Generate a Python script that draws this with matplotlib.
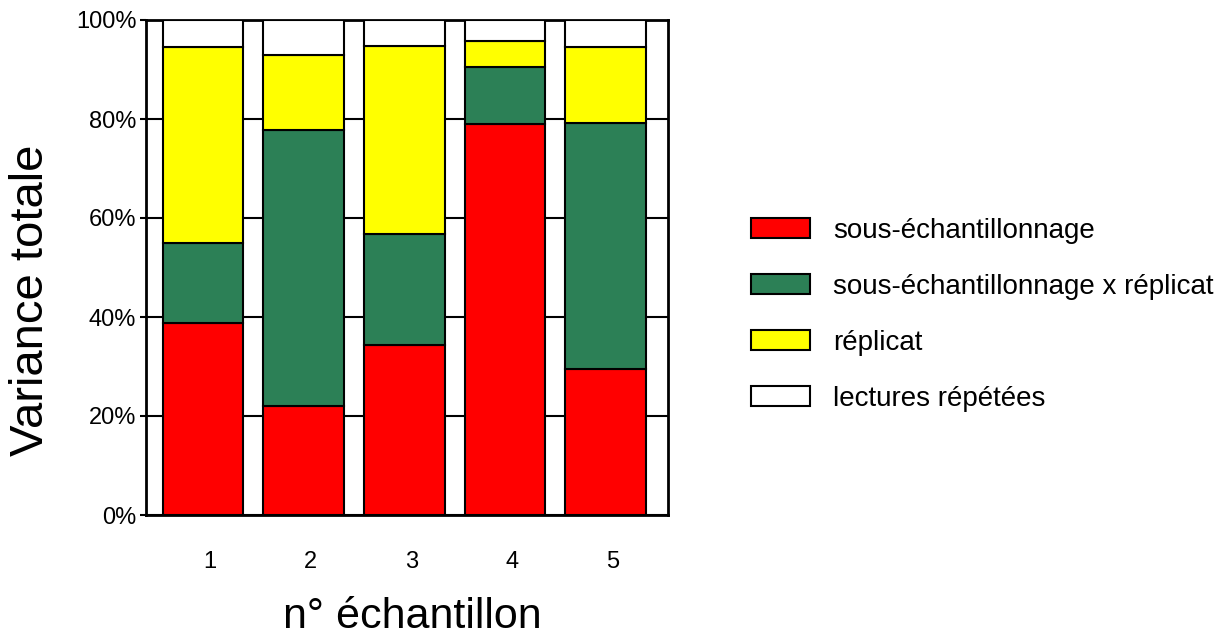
import matplotlib.pyplot as plt
import matplotlib.transforms as mtransforms
import numpy as np

plt.rcParams['font.family'] = ['Liberation Sans', 'DejaVu Sans']

# echantillons et parts de variance (%)
echantillons = ['1', '2', '3', '4', '5']
sous_ech = [38.8, 22.0, 34.3, 79.0, 29.5]
sous_ech_x_rep = [16.1, 55.8, 22.5, 11.5, 49.7]
replicat = [39.6, 15.1, 37.9, 5.3, 15.3]
lectures = [5.5, 7.1, 5.3, 4.2, 5.5]

noms = ['sous-échantillonnage', 'sous-échantillonnage x réplicat',
        'réplicat', 'lectures répétées']
couleurs = ['#ff0000', '#2c8056', '#ffff00', '#ffffff']

fig = plt.figure(figsize=(12.26, 6.39), dpi=100)
ax = fig.add_axes([146/1226, 1 - 515/639, (668-146)/1226, (515-20)/639])

x = np.arange(1, len(echantillons) + 1)
bas = np.zeros(len(x))
for vals, nom, c in zip([sous_ech, sous_ech_x_rep, replicat, lectures], noms, couleurs):
    ax.bar(x, vals, width=0.8, bottom=bas, color=c, edgecolor='black',
           linewidth=1.5, label=nom, zorder=3)
    bas += np.array(vals)

ax.set_xlim(0.433, 5.62)
ax.set_ylim(0, 100)
ax.set_yticks([0, 20, 40, 60, 80, 100])
ax.set_yticklabels(['0%', '20%', '40%', '60%', '80%', '100%'], fontsize=17)
ax.set_xticks(x)
ax.set_xticklabels(echantillons, fontsize=17)
ax.tick_params(axis='x', length=0, pad=26)
ax.tick_params(axis='y', length=4, width=1.5, pad=3)
# les numeros sont un peu decales a droite dans l'original
decal = mtransforms.ScaledTranslation(7/100, 0, fig.dpi_scale_trans)
for lab in ax.get_xticklabels():
    lab.set_transform(lab.get_transform() + decal)
ax.yaxis.grid(True, color='black', linewidth=1.5, zorder=0)
ax.set_axisbelow(True)
for s in ax.spines.values():
    s.set_linewidth(2)

ax.set_ylabel('Variance totale', fontsize=34)
ax.yaxis.set_label_coords(-0.178, 0.434)
ax.set_xlabel('n° échantillon', fontsize=31)
ax.xaxis.set_label_coords(0.51, -0.165)

ax.legend(loc='center left', bbox_to_anchor=(1.111, 0.404), frameon=False,
          fontsize=20, handlelength=2.12, handleheight=0.72,
          labelspacing=1.08, handletextpad=0.83)

fig.savefig('out.png', dpi=100)
